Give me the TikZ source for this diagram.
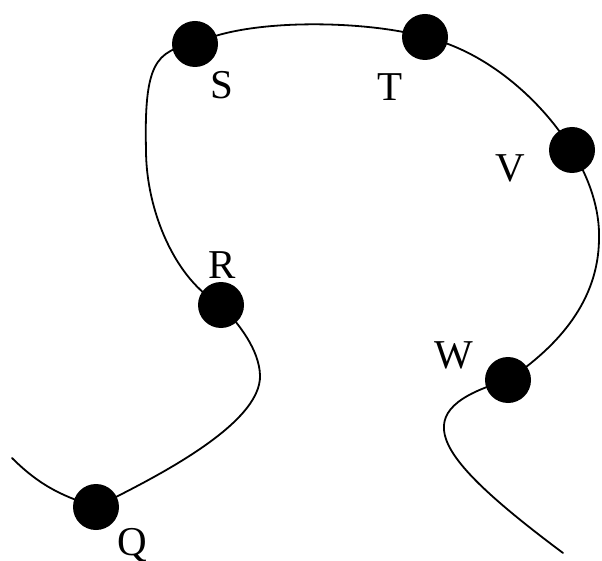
\documentclass[tikz,border=0pt]{standalone}
\usepackage{fontspec}
\setmainfont{Liberation Serif}
\begin{document}
\begin{tikzpicture}[x=1pt,y=-1pt,
  dot/.style={circle,fill=black,inner sep=0pt,minimum size=46pt},
  lbl/.style={font=\fontsize{41}{48}\selectfont,inner sep=0pt,anchor=base},
  curve/.style={line width=1.8pt,line cap=round}]
\useasboundingbox (0,0) rectangle (602,561);
\coordinate (A0) at (12,458);
\coordinate (Q) at (96,507);
\coordinate (P1) at (260,375);
\coordinate (R) at (221,305);
\coordinate (M) at (146,150);
\coordinate (S) at (195,44);
\coordinate (T) at (425,37);
\coordinate (V) at (572,150);
\coordinate (P2) at (599,240);
\coordinate (W) at (508,380);
\coordinate (E) at (563,553);
\draw[curve] (A0) .. controls (42,488) and (66,497) .. (Q)
  .. controls (150,480) and (262,425) .. (P1)
  .. controls (259,350) and (240,325) .. (R)
  .. controls (175,280) and (146,210) .. (M)
  .. controls (144,65) and (155,50) .. (S)
  .. controls (245,18) and (365,20) .. (T)
  .. controls (490,52) and (545,105) .. (V)
  .. controls (590,180) and (600,210) .. (P2)
  .. controls (598,300) and (560,345) .. (W)
  .. controls (405,410) and (428,452) .. (E);
\node[dot] (Qd) at (Q) {};
\node[dot] (Rd) at (R) {};
\node[dot] (Sd) at (S) {};
\node[dot] (Td) at (T) {};
\node[dot] (Vd) at (V) {};
\node[dot] (Wd) at (W) {};
\node[lbl] (Sl) at (222,99) {S};
\node[lbl] (Tl) at (390,101) {T};
\node[lbl] (Vl) at (510,182) {V};
\node[lbl] (Rl) at (222,278) {R};
\node[lbl] (Wl) at (454,368) {W};
\node[lbl] (Ql) at (132,555) {Q};
\end{tikzpicture}
\end{document}
